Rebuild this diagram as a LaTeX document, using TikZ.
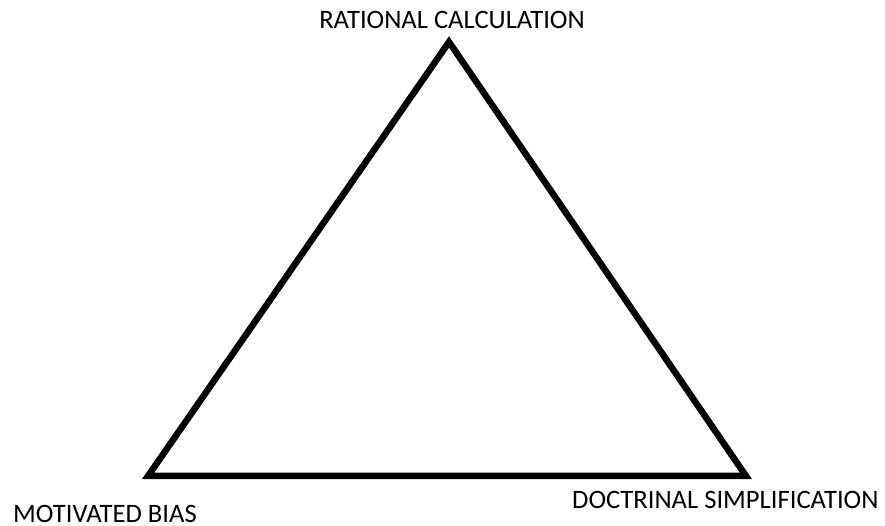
\documentclass[tikz,border=0pt]{standalone}
\usepackage{fontspec}
\setmainfont{Carlito}
\begin{document}
\begin{tikzpicture}[
    x=1pt, y=1pt,
    side/.style={line width=6.5pt, miter limit=10},
    corner/.style={inner sep=0pt, font=\fontsize{26.6}{30}\selectfont}
    ]

    \useasboundingbox (0,0) rectangle (885,526);

    \coordinate (R) at (449,484);
    \coordinate (M) at (148,50);
    \coordinate (D) at (746,50);

    \node[corner, anchor=base] (RL) at (452,497) {RATIONAL CALCULATION};
    \node[corner, anchor=base west] (ML) at (13,3) {MOTIVATED BIAS};
    \node[corner, anchor=base west] (DL) at (572,17) {DOCTRINAL SIMPLIFICATION};

    \draw[side] (R) -- (M) -- (D) -- cycle;

\end{tikzpicture}
\end{document}
